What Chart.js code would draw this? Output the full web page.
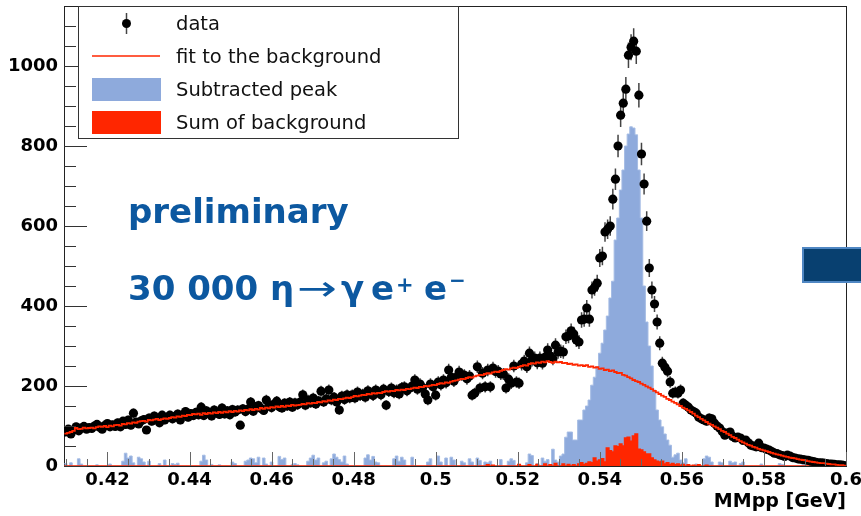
<!DOCTYPE html>
<html>
<head>
<meta charset="utf-8">
<script src="https://cdn.jsdelivr.net/npm/chart.js@4.4.1/dist/chart.umd.min.js"></script>
<style>
  html, body { margin: 0; padding: 0; background: #fff; }
  #wrap { width: 861px; height: 516px; }
</style>
</head>
<body>
<div id="wrap"><canvas id="mmpp" width="861" height="516"></canvas></div>
<script>
// MMpp spectrum, 300 bins
const binLo = 0.4095, binHi = 0.6, nBins = 300;

// measured counts per bin
const dataCounts = [
  85,92,80,90,98,88,95,99,92,96,
  94,100,104,97,92,101,106,98,103,99,
  108,98,112,104,115,102,132,110,105,113,
  116,90,120,112,125,118,108,127,115,122,
  127,118,124,130,115,128,136,122,131,126,
  134,128,147,126,138,131,125,140,133,129,
  145,130,138,128,141,135,140,102,143,136,
  142,160,137,148,151,144,139,165,152,146,
  155,162,148,145,157,150,160,147,158,153,
  160,178,152,165,158,170,155,163,187,160,
  168,190,165,172,160,140,175,166,178,170,
  178,170,185,176,180,172,188,182,176,190,
  185,178,192,152,186,195,183,190,180,196,
  198,188,195,200,215,192,205,196,180,165,
  205,198,177,210,203,215,208,240,222,212,
  222,235,228,227,218,225,177,182,248,195,
  232,198,240,198,245,236,237,230,230,195,
  217,207,250,210,207,255,262,248,282,265,
  270,258,270,257,272,290,275,268,302,285,
  287,285,323,325,338,330,315,310,365,367,
  395,367,440,447,457,520,525,585,592,600,
  667,717,800,877,907,942,1027,1047,1062,1037,
  927,780,705,612,495,440,405,360,307,257,
  247,237,210,182,185,182,190,157,152,147,
  140,136,132,122,118,115,112,120,118,107,
  100,95,86,77,82,85,74,70,72,70,
  64,65,58,52,50,48,57,46,45,42,
  40,36,32,31,28,26,24,27,25,21,
  20,18,17,16,15,14,12,11,9,8,
  8,7,6,5,5,4,3,3,2,1
];

// background fit, per bin
const bgFit = [
  81,83,85,88,95,92,93,96,94,95,
  96,94,97,99,98,100,97,101,99,102,
  103,101,105,104,107,106,109,108,111,112,
  113,111,115,114,116,118,115,117,119,118,
  120,122,121,124,123,126,125,128,127,130,
  129,131,128,132,130,133,131,134,132,135,
  133,136,134,137,135,138,136,139,137,140,
  139,142,140,143,141,145,143,146,144,147,
  146,149,147,150,148,151,150,153,151,152,
  153,155,154,157,156,158,157,160,159,162,
  161,164,163,166,165,168,167,169,171,170,
  172,175,174,176,178,177,180,179,182,181,
  183,182,185,187,186,188,187,190,189,191,
  190,193,192,194,196,195,198,197,200,199,
  201,203,202,205,207,206,209,208,211,213,
  214,216,218,217,220,222,221,224,226,228,
  227,230,232,231,234,236,235,238,240,242,
  241,244,246,245,248,250,252,251,255,257,
  256,259,258,261,259,262,260,258,261,259,
  260,257,258,255,256,253,254,251,252,250,
  252,248,249,246,247,243,244,240,241,237,
  239,235,232,233,228,226,222,219,215,212,
  210,206,203,199,196,192,188,184,180,176,
  173,168,165,161,158,154,150,146,143,139,
  135,131,126,122,118,114,110,106,103,99,
  96,92,88,85,81,77,73,70,66,62,
  59,56,53,51,48,46,43,41,39,37,
  35,33,31,29,28,26,24,23,21,20,
  19,17,16,15,14,12,11,10,9,8,
  7,7,6,5,4,4,3,2,2,1
];

// data minus background
const peakSub = [
  6,0,8,0,0,18,5,0,0,0,
  0,0,3,0,0,0,0,5,0,0,
  0,0,12,32,20,25,8,0,22,18,
  10,0,12,0,0,0,6,0,15,0,
  0,6,4,7,0,0,0,0,0,0,
  0,0,12,27,15,0,4,0,0,3,
  0,0,0,0,10,6,0,0,0,12,
  15,20,18,8,22,0,20,5,0,10,
  0,0,24,16,20,0,0,4,6,3,
  0,0,0,12,20,27,15,20,0,8,
  12,0,18,30,22,16,10,25,5,0,
  0,0,0,0,0,20,28,15,24,10,
  8,0,0,0,0,0,18,25,12,22,
  15,0,0,22,0,0,0,0,0,10,
  18,0,0,25,10,0,20,0,22,15,
  0,0,12,8,0,18,10,0,20,14,
  0,10,8,12,0,0,0,16,0,0,
  12,18,14,0,0,0,0,8,30,26,
  0,6,0,20,12,16,0,42,15,10,
  25,30,72,85,85,65,65,115,115,140,
  150,165,202,222,248,282,307,340,375,420,
  462,565,620,690,740,800,830,848,845,828,
  740,620,450,360,300,250,190,140,115,98,
  80,65,52,22,28,32,15,8,18,0,
  0,0,5,0,0,18,25,22,10,0,
  0,10,8,0,0,12,8,10,0,6,
  10,0,0,0,0,0,0,5,0,0,
  0,0,0,0,6,4,0,0,0,0,
  0,0,0,3,0,0,0,0,0,0,
  0,0,0,0,0,0,0,0,0,0
];

// summed background contributions
const bgSum = [
  0,0,0,0,0,0,0,0,0,0,
  0,0,0,0,0,0,0,0,0,0,
  0,0,0,0,0,0,0,0,0,0,
  0,0,0,0,0,0,0,0,0,0,
  0,0,0,0,0,0,0,0,0,0,
  0,0,0,0,0,0,0,0,0,0,
  0,0,0,0,0,0,0,0,0,0,
  0,0,0,0,0,0,0,0,0,0,
  0,0,0,0,0,0,0,0,0,0,
  0,0,0,0,0,0,0,0,0,0,
  0,0,0,0,0,0,0,0,0,0,
  0,0,0,0,0,0,0,0,0,0,
  0,0,0,0,0,0,0,0,0,0,
  0,0,0,0,0,0,0,0,0,0,
  0,0,0,0,0,0,0,0,0,0,
  0,0,0,0,0,0,0,0,0,0,
  0,0,3,0,2,0,0,0,0,0,
  0,0,0,0,4,0,0,0,3,0,
  0,4,0,0,5,0,3,0,6,0,
  0,5,0,4,0,3,0,5,8,4,
  6,10,8,20,12,15,18,10,45,38,
  35,50,48,55,50,70,72,62,75,80,
  42,40,35,30,30,20,15,12,10,12,
  5,8,4,6,3,5,2,4,0,3,
  0,2,0,3,0,0,2,0,0,0,
  0,0,0,0,0,0,0,0,0,0,
  0,0,0,0,0,0,0,0,0,0,
  0,0,0,0,0,0,0,0,0,0,
  0,0,0,0,0,0,0,0,0,0,
  0,0,0,0,0,0,0,0,0,0
];

const xTickLabels = [0.42, 0.44, 0.46, 0.48, 0.5, 0.52, 0.54, 0.56, 0.58, 0.6];
const yTickLabels = [0, 200, 400, 600, 800, 1000];

const FONT = '"DejaVu Sans", "Liberation Sans", Arial, sans-serif';
const RED = 'rgb(255,38,0)';
const BLUE = 'rgb(142,170,220)';
const TEXT_BLUE = 'rgb(12,88,160)';

const binW = (binHi - binLo) / nBins;
const centers = dataCounts.map((_, i) => binLo + (i + 0.5) * binW);

function histPoints(vals) {
  const pts = vals.map((v, i) => ({ x: centers[i], y: v }));
  pts.unshift({ x: binLo, y: vals[0] });
  pts.push({ x: binHi, y: vals[vals.length - 1] });
  return pts;
}

// frame + inward ticks like a ROOT canvas
const frame = {
  id: 'frame',
  beforeDatasetsDraw(chart) {
    const { ctx, chartArea: a } = chart;
    ctx.save();
    ctx.strokeStyle = '#222';
    ctx.lineWidth = 1;
    ctx.strokeRect(a.left + 0.5, a.top + 0.5, a.right - a.left, a.bottom - a.top);
    ctx.restore();
  },
  afterDatasetsDraw(chart) {
    const { ctx, chartArea: a, scales: { x, y } } = chart;
    ctx.save();
    ctx.lineWidth = 1;
    ctx.strokeStyle = '#333';
    ctx.beginPath();
    for (let v = 0; v <= 1100; v += 50) {
      const py = Math.round(y.getPixelForValue(v)) + 0.5;
      const len = v % 200 === 0 ? 23 : 12;
      ctx.moveTo(a.left, py);
      ctx.lineTo(a.left + len, py);
    }
    ctx.stroke();
    ctx.strokeStyle = '#666';
    ctx.beginPath();
    for (let k = 82; k <= 120; k++) {
      const v = k * 0.005;
      const px = Math.round(x.getPixelForValue(v)) + 0.5;
      const len = k % 4 === 0 ? 14 : 7;
      ctx.moveTo(px, a.bottom);
      ctx.lineTo(px, a.bottom - len);
    }
    ctx.stroke();
    ctx.restore();
  }
};

// sqrt(N) error bars under the data markers
const errorBars = {
  id: 'errorBars',
  beforeDatasetDraw(chart, args) {
    if (args.index !== 0) return;
    const { ctx, chartArea: a, scales: { x, y } } = chart;
    ctx.save();
    ctx.beginPath();
    ctx.rect(a.left, a.top, a.right - a.left, a.bottom - a.top);
    ctx.clip();
    ctx.strokeStyle = '#444';
    ctx.lineWidth = 1.5;
    ctx.beginPath();
    dataCounts.forEach((v, i) => {
      const px = x.getPixelForValue(centers[i]);
      const e = Math.sqrt(v);
      ctx.moveTo(px, y.getPixelForValue(v - e));
      ctx.lineTo(px, y.getPixelForValue(v + e));
    });
    ctx.stroke();
    ctx.restore();
  }
};

const overlay = {
  id: 'overlay',
  afterDraw(chart) {
    const ctx = chart.ctx;
    ctx.save();

    // legend
    ctx.fillStyle = '#fff';
    ctx.fillRect(78, 6, 381, 133);
    ctx.strokeStyle = '#333';
    ctx.lineWidth = 1;
    ctx.strokeRect(78.5, 6.5, 380, 132);

    ctx.strokeStyle = '#444';
    ctx.lineWidth = 1.5;
    ctx.beginPath(); ctx.moveTo(126.5, 13); ctx.lineTo(126.5, 34); ctx.stroke();
    ctx.fillStyle = '#000';
    ctx.beginPath(); ctx.arc(126.5, 23.5, 4.5, 0, Math.PI * 2); ctx.fill();

    ctx.strokeStyle = RED;
    ctx.beginPath(); ctx.moveTo(92, 56); ctx.lineTo(160, 56); ctx.stroke();
    ctx.fillStyle = BLUE;
    ctx.fillRect(92, 78, 69, 23);
    ctx.fillStyle = RED;
    ctx.fillRect(92, 111, 69, 23);

    ctx.fillStyle = '#111';
    ctx.font = '19.5px ' + FONT;
    ctx.textBaseline = 'alphabetic';
    ctx.fillText('data', 176, 30);
    ctx.fillText('fit to the background', 176, 63);
    ctx.fillText('Subtracted peak', 176, 96);
    ctx.fillText('Sum of background', 176, 129);

    // annotations
    ctx.fillStyle = TEXT_BLUE;
    ctx.font = 'bold 34px ' + FONT;
    ctx.fillText('preliminary', 128, 223);
    ctx.fillText('30 000 η', 128, 300);
    ctx.save();
    ctx.translate(297, 300);
    ctx.scale(1.4, 1);
    ctx.font = '34px ' + FONT;
    ctx.fillText('→', 0, 0);
    ctx.restore();
    ctx.fillText('γ', 341, 300);
    ctx.fillText('e', 371, 300);
    ctx.fillText('e', 424, 300);
    ctx.font = 'bold 21px ' + FONT;
    ctx.fillText('+', 396, 292);
    ctx.font = 'bold 20px ' + FONT;
    ctx.fillText('−', 449, 287);

    // dark tab on the right edge
    ctx.fillStyle = 'rgb(80,135,195)';
    ctx.fillRect(802, 247, 59, 36);
    ctx.fillStyle = 'rgb(8,64,112)';
    ctx.fillRect(804, 249, 57, 32);

    ctx.restore();
  }
};

Chart.defaults.font.family = FONT;

new Chart(document.getElementById('mmpp'), {
  type: 'line',
  data: {
    datasets: [
      {
        label: 'data',
        data: dataCounts.map((v, i) => ({ x: centers[i], y: v })),
        showLine: false,
        pointRadius: 4.6,
        pointBackgroundColor: '#000',
        pointBorderWidth: 0,
        order: 0
      },
      {
        // drawn over the markers so the steps stay visible
        label: 'fit to the background',
        data: histPoints(bgFit),
        stepped: 'middle',
        borderColor: RED,
        borderWidth: 1.8,
        pointRadius: 0,
        fill: false,
        order: -1
      },
      {
        label: 'Sum of background',
        data: histPoints(bgSum),
        stepped: 'middle',
        borderColor: RED,
        backgroundColor: RED,
        borderWidth: 1.5,
        pointRadius: 0,
        fill: 'origin',
        order: 2
      },
      {
        label: 'Subtracted peak',
        data: histPoints(peakSub),
        stepped: 'middle',
        borderColor: 'rgb(165,188,228)',
        backgroundColor: BLUE,
        borderWidth: 1,
        pointRadius: 0,
        fill: 'origin',
        order: 3
      }
    ]
  },
  options: {
    responsive: false,
    animation: false,
    devicePixelRatio: 1,
    events: [],
    layout: { padding: { top: 6, right: 15, bottom: 0, left: 0 } },
    plugins: {
      legend: { display: false },
      tooltip: { enabled: false }
    },
    scales: {
      x: {
        type: 'linear',
        min: 0.4094,
        max: 0.6,
        grid: { display: false, drawTicks: false },
        border: { display: false },
        afterBuildTicks: s => { s.ticks = xTickLabels.map(v => ({ value: v })); },
        afterFit: s => { s.height = 50; s.paddingLeft = 0; s.paddingRight = 0; },
        ticks: {
          autoSkip: false,
          maxRotation: 0,
          padding: 4,
          color: '#000',
          font: { size: 18, weight: 'bold' },
          callback: v => String(+v.toFixed(2))
        },
        title: {
          display: true,
          text: 'MMpp [GeV]',
          align: 'end',
          color: '#000',
          font: { size: 19, weight: 'bold' },
          padding: { top: 0, bottom: 3 }
        }
      },
      y: {
        min: 0,
        max: 1150,
        grid: { display: false, drawTicks: false },
        border: { display: false },
        afterBuildTicks: s => { s.ticks = yTickLabels.map(v => ({ value: v })); },
        afterFit: s => { s.width = 64; s.paddingTop = 0; s.paddingBottom = 0; },
        ticks: {
          autoSkip: false,
          padding: 6,
          color: '#000',
          font: { size: 18, weight: 'bold' },
          callback: v => String(v)
        }
      }
    }
  },
  plugins: [frame, errorBars, overlay]
});
</script>
</body>
</html>
